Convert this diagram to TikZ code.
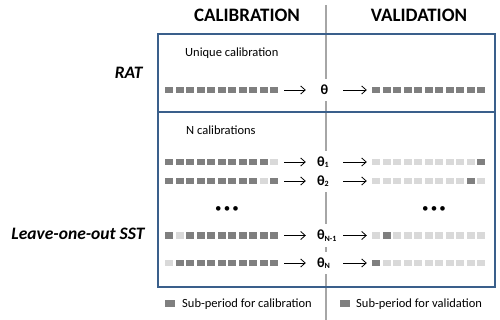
\documentclass[tikz,border=0pt]{standalone}
\usepackage{fontspec}
\setmainfont{Carlito}
\usepackage{xcolor}
\usepackage{tikz}
\usetikzlibrary{arrows.meta}
\definecolor{framenavy}{HTML}{3A5F8B}
\definecolor{on}{HTML}{7F7F7F}
\definecolor{off}{HTML}{D9D9D9}
\definecolor{divgray}{HTML}{A6A6A6}
\newcommand{\cellrow}[4]{%
  \foreach \s [count=\i] in {#4} {\node[cell, fill=\s] (#1-\i) at ({#3+10.5*(\i-1)},#2) {};}}
\newcommand{\thetaidx}[1]{\raisebox{-1.5pt}{\fontsize{8}{8}\selectfont #1}}

\begin{document}
\begin{tikzpicture}[x=1pt, y=-1pt,
    cell/.style={minimum width=8pt, minimum height=6pt, inner sep=0pt},
    panel/.style={draw=framenavy, line width=1.5pt, minimum width=337pt, inner sep=0pt},
    head/.style={font=\bfseries\fontsize{19}{20}\selectfont},
    method/.style={anchor=east, font=\bfseries\itshape\fontsize{17.5}{19}\selectfont},
    note/.style={anchor=base west, inner sep=0pt, font=\fontsize{12.5}{14}\selectfont},
    param/.style={fill=white, text width=15pt, inner xsep=11pt, inner ysep=0pt, minimum height=22pt, font=\bfseries\fontsize{14}{14}\selectfont},
    flow/.style={-{Straight Barb[length=4.5pt,width=8pt]}, line width=0.8pt},
    dots/.style={font=\fontsize{13}{13}\selectfont},
  ]
    \useasboundingbox (0,0) rectangle (500,320);

    \coordinate (divtop) at (326,5);
    \coordinate (divbot) at (326,320);
    \draw[divgray, line width=1.2pt] (divtop) -- (divbot);

    \node[head] (calhead) at (247,15) {CALIBRATION};
    \node[head] (valhead) at (419,15) {VALIDATION};

    \node[panel, minimum height=78pt] (ratbox) at (326.5,73) {};
    \node[panel, minimum height=175pt] (sstbox) at (326.5,199.5) {};

    \node[method] (rat) at (146,73) {RAT};
    \node[method] (sst) at (148,234) {Leave-one-out SST};

    \node[note] (unique) at (185,57) {Unique calibration};
    \node[note] (ncal) at (186,135) {N calibrations};

    % RAT row
    \cellrow{c0}{90}{169}{on,on,on,on,on,on,on,on,on,on,on}
    \cellrow{v0}{90}{376}{on,on,on,on,on,on,on,on,on,on,on}
    \node[param, align=center] (t0) at (324.5,90) {θ};

    % leave-one-out rows
    \cellrow{c1}{162}{169}{on,on,on,on,on,on,on,on,on,on,off}
    \cellrow{v1}{162}{376}{off,off,off,off,off,off,off,off,off,off,on}
    \node[param, align=left] (t1) at (324.5,162) {θ\thetaidx{1}};

    \cellrow{c2}{181}{169}{on,on,on,on,on,on,on,on,on,off,on}
    \cellrow{v2}{181}{376}{off,off,off,off,off,off,off,off,off,on,off}
    \node[param, align=left] (t2) at (324.5,181) {θ\thetaidx{2}};

    \node[dots] (dotscal) at (227,210) {•\,•\,•};
    \node[dots] (dotsval) at (434,210) {•\,•\,•};

    \cellrow{c3}{235.5}{169}{on,off,on,on,on,on,on,on,on,on,on}
    \cellrow{v3}{235.5}{376}{off,on,off,off,off,off,off,off,off,off,off}
    \node[param, align=left] (t3) at (324.5,235.5) {θ\thetaidx{N-1}};

    \cellrow{c4}{263}{169}{off,on,on,on,on,on,on,on,on,on,on}
    \cellrow{v4}{263}{376}{on,off,off,off,off,off,off,off,off,off,off}
    \node[param, align=left] (t4) at (324.5,263) {θ\thetaidx{N}};

    \foreach \r in {0,...,4} {
      \draw[flow, shorten <=6pt] (c\r-11) -- (t\r);
      \draw[flow, shorten >=5pt] (t\r) -- (v\r-1);
    }

    % legend
    \node[cell, fill=on, minimum width=10pt, minimum height=7pt] (legcal) at (170,303) {};
    \node[note] (legcaltext) at (182,307) {Sub-period for calibration};
    \node[cell, fill=on, minimum width=10pt, minimum height=7pt] (legval) at (345,303) {};
    \node[note] (legvaltext) at (356,307) {Sub-period for validation};
  \end{tikzpicture}
\end{document}
